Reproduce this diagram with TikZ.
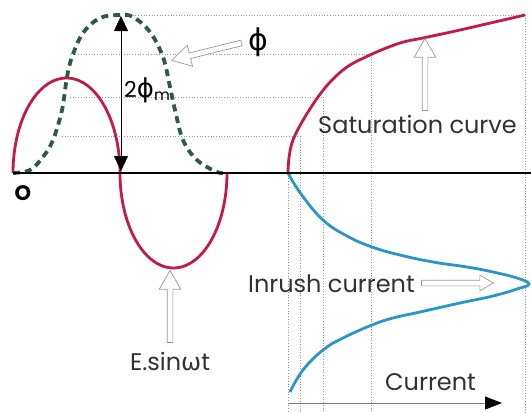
\documentclass[tikz,border=0pt]{standalone}
\usepackage{fontspec}
\setmainfont{Poppins}
\newfontfamily\greekfont{DejaVu Sans}
\usetikzlibrary{arrows.meta,shapes.arrows}
\definecolor{fluxred}{RGB}{200,25,70}
\definecolor{fluxgreen}{RGB}{45,90,65}
\definecolor{inrushblue}{RGB}{40,150,205}
\definecolor{labelgray}{RGB}{50,50,50}
\definecolor{gridgray}{RGB}{150,150,150}

\begin{document}
\begin{tikzpicture}[x=1pt, y=-1pt,
        grid/.style={gridgray, dotted, line width=0.7pt},
        voltage/.style={fluxred, line width=2.8pt},
        flux/.style={fluxgreen, line width=3.8pt, dash pattern=on 7pt off 5pt},
        inrush/.style={inrushblue, line width=2.8pt},
        label/.style={labelgray, font=\fontsize{24}{26}\selectfont, inner sep=0pt},
        hollow/.style={single arrow, draw=gray!80, fill=white, line width=0.7pt, inner sep=2.5pt, single arrow head extend=8pt, single arrow tip angle=60, minimum height=72pt},
        dim/.style={thin, {Triangle[length=15pt, width=14pt]}-{Triangle[length=15pt, width=14pt]}}
    ]
        \useasboundingbox (0,0) rectangle (531,413);

        % Grid
        \draw[grid] (130,15) -- (525,15);
        \draw[grid] (70,54) -- (371,54);
        \draw[grid] (70,97) -- (323,97);
        \draw[grid] (62,136) -- (300,136);
        \draw[grid] (288,173) -- (288,413);
        \draw[grid] (300,136) -- (300,413);
        \draw[grid] (323,97) -- (323,413);
        \draw[grid] (371,54) -- (371,413);
        \draw[grid] (525,15) -- (525,413);

        % Curves
        \draw[voltage] plot[domain=180:360, samples=60] ({66.5+53.5*cos(\x)}, {173+95*sin(\x)})
            -- plot[domain=180:0, samples=60] ({173.5+53.5*cos(\x)}, {173+95*sin(\x)});
        \draw[flux] plot[smooth, tension=0.6] coordinates {(13,173) (30,170) (43,157) (53,140) (62,110) (67,77) (72,57) (83,33) (100,18) (120,15)
            (133,17) (150,32) (163,57) (170,87) (175,110) (183,140) (197,160) (217,172) (227,173)};
        \draw[voltage] plot[smooth, tension=0.6] coordinates {(288,173) (293,140) (318,97) (343,70) (370,55) (400,43) (423,38) (460,30) (525,15)};
        \draw[inrush] plot[smooth, tension=0.7] coordinates {(288,173) (301,194) (323,220) (347,236) (372,247) (400,255) (433,262) (467,267) (493,272) (517,278) (529,284)
            (517,289) (493,296) (460,303) (420,312) (393,318) (372,325) (343,338) (323,350) (303,370) (290,392)};

        % Axes
        \draw[line width=2.8pt] (13,173) -- (531,173);
        \coordinate (fluxtop) at (121,16);
        \coordinate (fluxbot) at (121,171);
        \draw[dim] (fluxbot) -- (fluxtop);
        \coordinate (curstart) at (288,403);
        \coordinate (curend) at (502,403);
        \draw[gray, line width=0.8pt, -{Triangle[length=17pt, width=13pt, black]}] (curstart) -- (curend);

        % Labels
        \node[label, black, font=\fontsize{21}{23}\selectfont\bfseries] (origin) at (23,193) {O};
        \node[label, black, anchor=west, font=\fontsize{22}{24}\selectfont] (twophi) at (124,90) {2{\fontsize{26}{28}\selectfont\greekfont ϕ}\textsubscript{m}};
        \node[label, black, font=\fontsize{30}{32}\selectfont\greekfont] (phi) at (258,42) {ϕ};
        \node[label, anchor=west] (satlabel) at (318,124) {Saturation curve};
        \node[label, anchor=east] (inrushlabel) at (415,284) {Inrush current};
        \node[label, anchor=west] (curlabel) at (385,382) {Current};
        \node[label] (esin) at (170,362) {E.sin{\greekfont ω}t};

        % Hollow arrows
        \node[hollow, rotate=194] (phiarrow) at (209,51) {};
        \node[hollow, rotate=90] (satarrow) at (425,77) {};
        \node[hollow, rotate=90] (esinarrow) at (170,309) {};
        \node[hollow, rotate=0, single arrow head extend=5pt] (inrusharrow) at (455,283) {};
    \end{tikzpicture}
\end{document}
